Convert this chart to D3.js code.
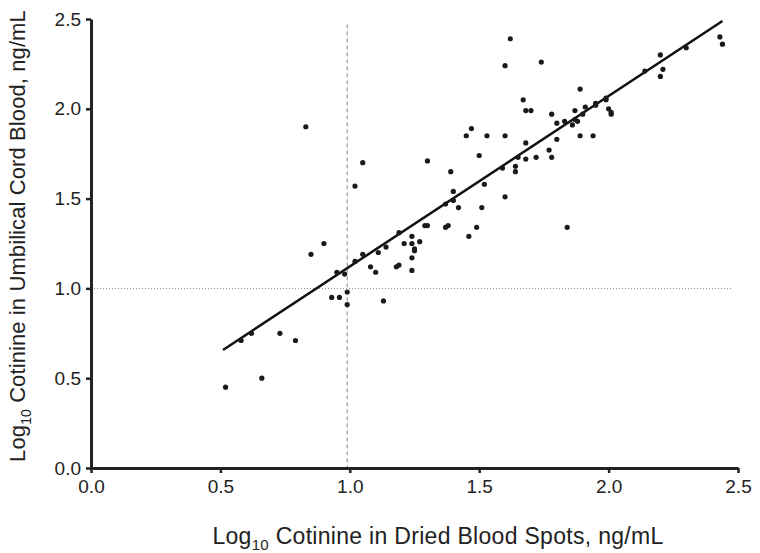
<!DOCTYPE html>
<html>
<head>
<meta charset="utf-8">
<script src="https://cdn.jsdelivr.net/npm/d3@7/dist/d3.min.js"></script>
<style>
html,body{margin:0;padding:0;background:#fff;}
svg{display:block;}
text{font-family:"Liberation Sans",Arial,Helvetica,sans-serif;fill:#222;}
</style>
</head>
<body>
<svg id="chart" width="760" height="553"></svg>
<script>
// Data
const dbs = [0.83,1.62,1.60,1.74,1.67,1.68,1.70,1.78,1.80,1.45,1.47,1.53,1.60,1.68,1.80,1.77,1.78,1.72,1.68,1.65,1.64,1.64,1.59,1.50,1.52,1.60,1.30,1.39,1.40,1.05,1.02,2.43,2.44,2.30,2.20,2.21,2.20,2.14,1.89,1.99,1.99,2.00,2.01,2.01,1.95,1.95,1.91,1.90,1.87,1.87,1.88,1.86,1.83,1.89,1.94,0.90,0.85,0.95,0.98,1.02,1.05,1.08,1.10,1.11,1.14,1.19,1.21,1.18,1.19,1.24,1.24,1.25,1.24,1.24,1.27,0.93,0.96,0.99,0.99,1.13,0.58,0.62,0.73,0.79,0.66,0.52,1.37,1.40,1.42,1.51,1.29,1.30,1.37,1.38,1.46,1.49,1.84,1.25];
const cord = [1.90,2.39,2.24,2.26,2.05,1.99,1.99,1.97,1.92,1.85,1.89,1.85,1.85,1.81,1.83,1.77,1.73,1.73,1.72,1.73,1.68,1.65,1.67,1.74,1.58,1.51,1.71,1.65,1.54,1.70,1.57,2.40,2.36,2.34,2.30,2.22,2.18,2.21,2.11,2.06,2.05,2.00,1.98,1.97,2.03,2.02,2.01,1.97,1.99,1.94,1.93,1.91,1.93,1.85,1.85,1.25,1.19,1.09,1.08,1.15,1.19,1.12,1.09,1.20,1.23,1.31,1.25,1.12,1.13,1.25,1.29,1.22,1.17,1.10,1.26,0.95,0.95,0.98,0.91,0.93,0.71,0.75,0.75,0.71,0.50,0.45,1.47,1.49,1.45,1.45,1.35,1.35,1.34,1.35,1.29,1.34,1.34,1.21];
const fitX = [0.51, 2.44];
const fitY = [0.657, 2.489];
const xTicks = [0.0, 0.5, 1.0, 1.5, 2.0, 2.5];
const yTicks = [0.0, 0.5, 1.0, 1.5, 2.0, 2.5];
const refX = [0.99];
const refY = [1.0];

const svg = d3.select("#chart");
const x = d3.scaleLinear().domain([0, 2.5]).range([91, 738]);
const y = d3.scaleLinear().domain([0, 2.5]).range([468, 19]);
const ink = "#222";

// reference lines
svg.selectAll(".vref").data(refX).enter().append("line")
  .attr("x1", d => x(d)).attr("x2", d => x(d))
  .attr("y1", y(2.47)).attr("y2", y(0))
  .attr("stroke", "#8a8a8a").attr("stroke-width", 1).attr("stroke-dasharray", "4,3");
svg.selectAll(".href").data(refY).enter().append("line")
  .attr("x1", x(0)).attr("x2", x(2.48))
  .attr("y1", d => y(d)).attr("y2", d => y(d))
  .attr("stroke", "#8a8a8a").attr("stroke-width", 1).attr("stroke-dasharray", "1,2");

// axes
const xAxis = svg.append("g").attr("transform", `translate(0,${y(0)})`)
  .call(d3.axisBottom(x).tickValues(xTicks).tickFormat(d3.format(".1f")).tickSize(5).tickSizeOuter(0).tickPadding(7));
const yAxis = svg.append("g").attr("transform", `translate(${x(0)},0)`)
  .call(d3.axisLeft(y).tickValues(yTicks).tickFormat(d3.format(".1f")).tickSize(5).tickSizeOuter(0).tickPadding(5));
[xAxis, yAxis].forEach(g => {
  g.select(".domain").attr("stroke", ink).attr("stroke-width", 3);
  g.selectAll(".tick line").attr("stroke", ink).attr("stroke-width", 2.5);
  g.selectAll(".tick text").attr("font-size", 19).attr("fill", ink)
    .attr("font-family", "'Liberation Sans',Arial,sans-serif");
});

// regression line
svg.append("line")
  .attr("x1", x(fitX[0])).attr("y1", y(fitY[0]))
  .attr("x2", x(fitX[1])).attr("y2", y(fitY[1]))
  .attr("stroke", "#111").attr("stroke-width", 2.5);

// points
svg.append("g").selectAll("circle").data(dbs.map((d, i) => [d, cord[i]])).enter()
  .append("circle")
  .attr("cx", d => x(d[0])).attr("cy", d => y(d[1])).attr("r", 2.6)
  .attr("fill", "#1a1a1a");

// axis titles
const xt = svg.append("text").attr("x", 438).attr("y", 544).attr("text-anchor", "middle")
  .attr("font-size", 23).attr("letter-spacing", 0.3);
xt.append("tspan").text("Log");
xt.append("tspan").text("10").attr("font-size", 15).attr("dy", 6);
xt.append("tspan").text(" Cotinine in Dried Blood Spots, ng/mL").attr("dy", -6);

const yt = svg.append("text").attr("transform", "translate(25,236) rotate(-90)").attr("text-anchor", "middle")
  .attr("font-size", 22).attr("letter-spacing", 0.1);
yt.append("tspan").text("Log");
yt.append("tspan").text("10").attr("font-size", 14).attr("dy", 6);
yt.append("tspan").text(" Cotinine in Umbilical Cord Blood, ng/mL").attr("dy", -6);
</script>
</body>
</html>
